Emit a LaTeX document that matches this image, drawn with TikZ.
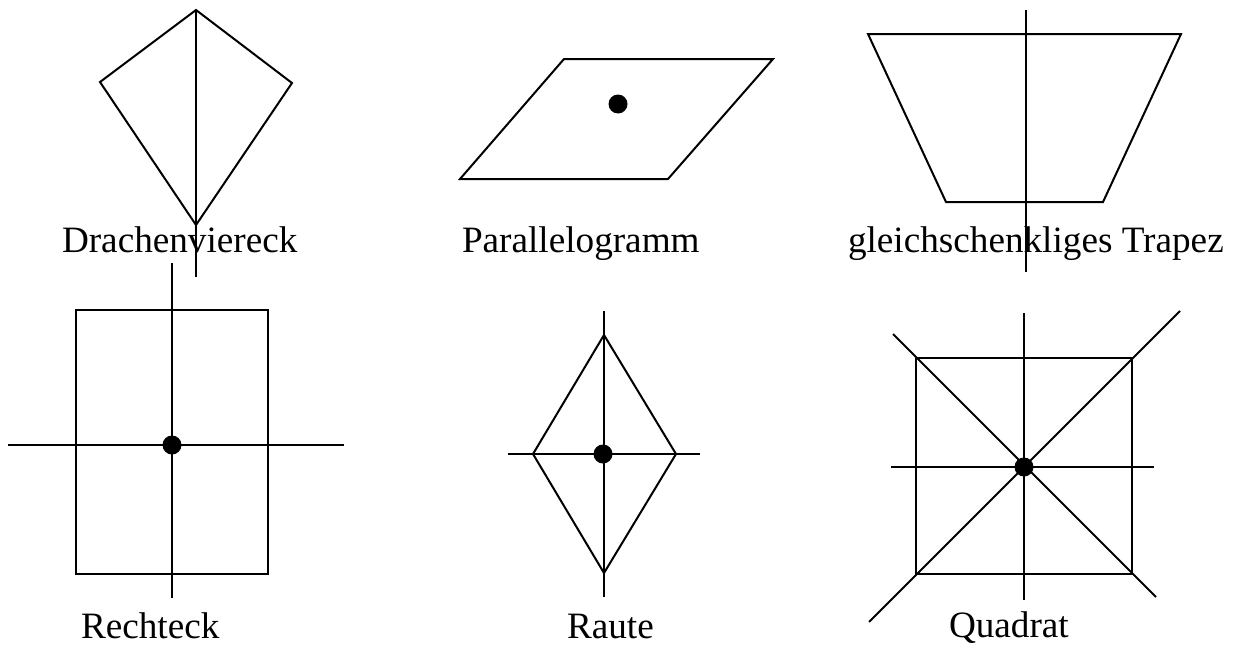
\documentclass[tikz,border=0pt]{standalone}
\usepackage{fontspec}
\setmainfont{Liberation Serif}
\usepackage{tikz}
\usetikzlibrary{positioning}

\begin{document}
\begin{tikzpicture}[x=0.5pt,y=-0.5pt,line width=1pt,
    every node/.style={font=\fontsize{18.6}{22}\selectfont},
    shapelabel/.style={anchor=base west,inner sep=0pt},
    centre/.style={circle,fill=black,inner sep=0pt,minimum size=9.5pt}]
  \useasboundingbox (0,0) rectangle (1236,648);
  % Drachenviereck
  \draw (196,10) -- (100,82) -- (196,225) -- (292,83) -- cycle;
  \draw (196,10) -- (196,277);
  \node[shapelabel] (kite) at (61,252) {Drachenviereck};
  % Parallelogramm
  \draw (564,59) -- (773,59) -- (668,179) -- (460,179) -- cycle;
  \node[centre] (pcentre) at (618,104) {};
  \node[shapelabel] (para) at (461,252) {Parallelogramm};
  % Trapez
  \draw (868,34) -- (1181,34) -- (1103,202) -- (946,202) -- cycle;
  \draw (1026,10) -- (1026,272);
  \node[shapelabel] (trap) at (847,252) {gleichschenkliges Trapez};
  % Rechteck
  \draw (76,310) rectangle (268,574);
  \draw (172,263) -- (172,598);
  \draw (8,445) -- (344,445);
  \node[centre] (rcentre) at (172,445) {};
  \node[shapelabel] (rect) at (80,638) {Rechteck};
  % Raute
  \draw (604,335) -- (676,454) -- (604,573) -- (533,454) -- cycle;
  \draw (604,311) -- (604,597);
  \draw (508,454) -- (700,454);
  \node[centre] (dcentre) at (603,454) {};
  \node[shapelabel] (raute) at (566,638) {Raute};
  % Quadrat
  \draw (916,358) rectangle (1132,574);
  \draw (1024,313) -- (1024,600);
  \draw (891,467) -- (1154,467);
  \draw (893,334) -- (1156,597);
  \draw (869,622) -- (1180,311);
  \node[centre] (qcentre) at (1024,467) {};
  \node[shapelabel] (quad) at (948,637) {Quadrat};
\end{tikzpicture}
\end{document}
